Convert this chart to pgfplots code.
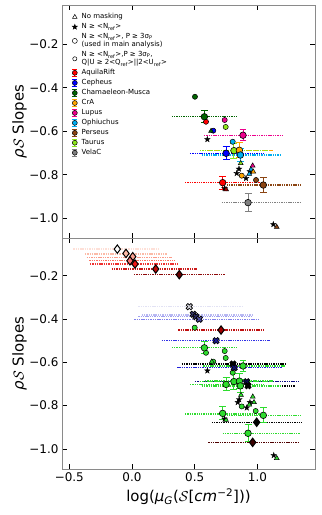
\documentclass[border=0pt]{standalone}
\usepackage{fontspec}
\setmainfont{DejaVu Sans}
\usepackage{pgfplots}
\pgfplotsset{compat=1.18}

\definecolor{cgreen}{HTML}{006400}
\definecolor{corange}{HTML}{FFA500}
\definecolor{cbrown}{HTML}{8B4513}
\definecolor{ctaurus}{HTML}{8CE61A}
\definecolor{cgray}{HTML}{808080}
\definecolor{lg}{HTML}{2EDC2E}
\definecolor{frame}{HTML}{8A8A8A}
% red series
\definecolor{rl1}{HTML}{FEE0D8}
\definecolor{rl2}{HTML}{FCBBA8}
\definecolor{rl3}{HTML}{FC9A88}
\definecolor{rl4}{HTML}{FB7060}
\definecolor{rl5}{HTML}{F03030}
\definecolor{rl6}{HTML}{CC1A1A}
\definecolor{rl7}{HTML}{8E0A0A}
\definecolor{rl8}{HTML}{C01010}
\definecolor{rd2}{HTML}{FCBBA8}
\definecolor{rd3}{HTML}{F9A090}
\definecolor{rd4}{HTML}{F87070}
\definecolor{rd5}{HTML}{F01818}
\definecolor{rd6}{HTML}{C00808}
\definecolor{rd7}{HTML}{6A0000}
\definecolor{rd8}{HTML}{A00000}
\definecolor{rd10}{HTML}{3A0000}
\definecolor{rl10}{HTML}{500000}
% blue series
\definecolor{bl1}{HTML}{E2E2F4}
\definecolor{bl2}{HTML}{B8B8F2}
\definecolor{bl3}{HTML}{A0A0F0}
\definecolor{bl4}{HTML}{8080EC}
\definecolor{bl5}{HTML}{3030E6}
\definecolor{bl6}{HTML}{2020D8}
\definecolor{bl7}{HTML}{0A0A80}
\definecolor{bx1}{HTML}{D4D4DC}
\definecolor{bx2}{HTML}{3A3A78}
\definecolor{bx3}{HTML}{2A2A66}
\definecolor{bx4}{HTML}{5050A8}
\definecolor{bx5}{HTML}{1A1A90}
\definecolor{bx6}{HTML}{101070}
\definecolor{bx7}{HTML}{0A0A50}

\pgfdeclareplotmark{fstar}{%
  \pgfpathmoveto{\pgfpointpolar{90}{\pgfplotmarksize}}%
  \pgfpathlineto{\pgfpointpolar{126}{0.4\pgfplotmarksize}}%
  \pgfpathlineto{\pgfpointpolar{162}{\pgfplotmarksize}}%
  \pgfpathlineto{\pgfpointpolar{198}{0.4\pgfplotmarksize}}%
  \pgfpathlineto{\pgfpointpolar{234}{\pgfplotmarksize}}%
  \pgfpathlineto{\pgfpointpolar{270}{0.4\pgfplotmarksize}}%
  \pgfpathlineto{\pgfpointpolar{306}{\pgfplotmarksize}}%
  \pgfpathlineto{\pgfpointpolar{342}{0.4\pgfplotmarksize}}%
  \pgfpathlineto{\pgfpointpolar{18}{\pgfplotmarksize}}%
  \pgfpathlineto{\pgfpointpolar{54}{0.4\pgfplotmarksize}}%
  \pgfpathclose
  \pgfusepathqfillstroke
}
\pgfdeclareplotmark{Xf}{%
  \pgftransformrotate{45}%
  \pgfpathmoveto{\pgfpoint{0.35\pgfplotmarksize}{\pgfplotmarksize}}%
  \pgfpathlineto{\pgfpoint{0.35\pgfplotmarksize}{0.35\pgfplotmarksize}}%
  \pgfpathlineto{\pgfpoint{\pgfplotmarksize}{0.35\pgfplotmarksize}}%
  \pgfpathlineto{\pgfpoint{\pgfplotmarksize}{-0.35\pgfplotmarksize}}%
  \pgfpathlineto{\pgfpoint{0.35\pgfplotmarksize}{-0.35\pgfplotmarksize}}%
  \pgfpathlineto{\pgfpoint{0.35\pgfplotmarksize}{-\pgfplotmarksize}}%
  \pgfpathlineto{\pgfpoint{-0.35\pgfplotmarksize}{-\pgfplotmarksize}}%
  \pgfpathlineto{\pgfpoint{-0.35\pgfplotmarksize}{-0.35\pgfplotmarksize}}%
  \pgfpathlineto{\pgfpoint{-\pgfplotmarksize}{-0.35\pgfplotmarksize}}%
  \pgfpathlineto{\pgfpoint{-\pgfplotmarksize}{0.35\pgfplotmarksize}}%
  \pgfpathlineto{\pgfpoint{-0.35\pgfplotmarksize}{0.35\pgfplotmarksize}}%
  \pgfpathlineto{\pgfpoint{-0.35\pgfplotmarksize}{\pgfplotmarksize}}%
  \pgfpathclose
  \pgfusepathqfillstroke
}

\pgfplotsset{
  base/.style={
    scale only axis, width=253bp,
    xmin=-0.558, xmax=1.459,
    xtick={-0.5,0,0.5,1},
    ytick={-1,-0.8,-0.6,-0.4,-0.2},
    yticklabels={−1.0,−0.8,−0.6,−0.4,−0.2},
    tick align=inside, tick pos=both,
    major tick length=5bp,
    tick style={black, line width=0.7pt},
    axis line style={frame, line width=0.9pt},
    ticklabel style={font=\fontsize{12}{14}\selectfont},
    label style={font=\fontsize{15}{17}\selectfont},
    ylabel={\textit{ρ}$\mathcal{S}$ Slopes},
    ylabel style={at={(axis description cs:-0.168,0.5)}, anchor=center},
    clip=false,
  },
  hl/.style={dash pattern=on 1.4pt off 0.9pt, line width=1.3pt, forget plot, color=#1},
  mainpt/.style={only marks, forget plot, mark=*, mark size=3.3pt, color=#1,
    mark options={fill=#1, draw=black, line width=0.6pt},
    error bars/y dir=both, error bars/y explicit,
    error bars/error bar style={color=#1, line width=1pt},
    error bars/error mark options={rotate=90, mark size=3.5pt, line width=1pt, color=#1}},
  smallpt/.style={only marks, forget plot, mark=*, mark size=2.6pt,
    mark options={fill=#1, draw=black, line width=0.5pt}},
  tri/.style={only marks, forget plot, mark=triangle*, mark size=2.8pt,
    mark options={fill=#1, draw=black, line width=0.5pt}},
  st/.style={only marks, forget plot, mark=fstar, mark size=3pt,
    mark options={fill=black, draw=black, line width=0.3pt}},
  dia/.style={only marks, forget plot, mark=diamond*, mark size=4.2pt,
    mark options={fill=#1, draw=black, line width=1pt}},
  xm/.style={only marks, forget plot, mark=Xf, mark size=3.3pt,
    mark options={fill=#1, draw=black, line width=0.7pt}},
  legm/.style n args={3}{legend image code/.code={
    \draw[black, line width=0.5pt, mark=#1, mark size=#3, mark options={fill=#2}] plot coordinates {(0pt,0pt)};}},
  legerr/.style={legend image code/.code={
    \draw[#1, line width=0.8pt] (0pt,-3.4pt)--(0pt,3.4pt) (-2.4pt,-3.4pt)--(2.4pt,-3.4pt) (-2.4pt,3.4pt)--(2.4pt,3.4pt);
    \draw[black, fill=#1, line width=0.5pt] (0pt,0pt) circle (2.5pt);}},
}

\begin{document}
\begin{tikzpicture}
% ---------------- top panel ----------------
\begin{axis}[base,
  at={(62bp,276.7bp)}, anchor=south west, height=233.3bp,
  ymin=-1.092, ymax=-0.019,
  xticklabels={},
  legend style={at={(axis description cs:0.027,0.975)}, anchor=north west,
    draw=none, fill=none, font=\fontsize{7}{8}\selectfont,
    cells={anchor=west, align=left}, row sep=2.1pt, column sep=3.5pt,
    nodes={inner sep=0.6pt}},
]
\addlegendimage{legm={triangle*}{white}{2.6pt}}
\addlegendentry{No masking}
\addlegendimage{legm={fstar}{black}{2.6pt}}
\addlegendentry{N ≥ <N\textsubscript{ref}>}
\addlegendimage{legm={*}{white}{2.5pt}}
\addlegendentry{N ≥ <N\textsubscript{ref}>, P ≥ 3σ\textsubscript{P}\\ (used in main analysis)}
\addlegendimage{legm={*}{white}{2.1pt}}
\addlegendentry{N ≥ <N\textsubscript{ref}>,P ≥ 3σ\textsubscript{P},\\ Q|U ≥ 2<Q\textsubscript{ref}>||2<U\textsubscript{ref}>}
\addlegendimage{legerr=red}\addlegendentry{AquilaRift}
\addlegendimage{legerr=blue}\addlegendentry{Cepheus}
\addlegendimage{legerr=cgreen}\addlegendentry{Chamaeleon-Musca}
\addlegendimage{legerr=corange}\addlegendentry{CrA}
\addlegendimage{legerr=magenta}\addlegendentry{Lupus}
\addlegendimage{legerr=cyan}\addlegendentry{Ophiuchus}
\addlegendimage{legerr=cbrown}\addlegendentry{Perseus}
\addlegendimage{legerr=ctaurus}\addlegendentry{Taurus}
\addlegendimage{legerr=cgray}\addlegendentry{VelaC}

% dotted ranges
\addplot[hl=red] coordinates {(0.423,-0.836) (1.034,-0.836)};
\addplot[hl=blue] coordinates {(0.462,-0.701) (1.047,-0.701)};
\addplot[hl=cgreen] coordinates {(0.317,-0.533) (0.840,-0.533)};
\addplot[hl=corange] coordinates {(0.582,-0.687) (1.127,-0.687)};
\addplot[hl=magenta] coordinates {(0.574,-0.618) (1.202,-0.618)};
\addplot[hl=cyan] coordinates {(0.556,-0.709) (1.180,-0.709)};
\addplot[hl=cbrown] coordinates {(0.755,-0.847) (1.340,-0.847)};
\addplot[hl=ctaurus] coordinates {(0.542,-0.689) (1.085,-0.689)};
\addplot[hl=cgray] coordinates {(0.715,-0.928) (1.340,-0.928)};
% small circles
\addplot[smallpt=cgreen] coordinates {(0.502,-0.441)};
\addplot[smallpt=red] coordinates {(0.590,-0.556)};
\addplot[smallpt=magenta] coordinates {(0.739,-0.548)};
\addplot[smallpt=ctaurus] coordinates {(0.747,-0.580)};
\addplot[smallpt=blue] coordinates {(0.648,-0.597)};
\addplot[smallpt=cyan] coordinates {(0.803,-0.648)};
\addplot[smallpt=corange] coordinates {(0.875,-0.804)};
\addplot[smallpt=cbrown] coordinates {(0.989,-0.824)};
% stars
\addplot[st] coordinates {(0.601,-0.637) (0.835,-0.793) (0.853,-0.773) (0.909,-0.816) (0.940,-0.785) (0.738,-0.862) (1.127,-1.028)};
% triangles
\addplot[tri=cgreen] coordinates {(0.630,-0.599)};
\addplot[tri=ctaurus] coordinates {(0.867,-0.747)};
\addplot[tri=cyan] coordinates {(0.935,-0.796) (0.949,-0.775)};
\addplot[tri=magenta] coordinates {(0.962,-0.758)};
\addplot[tri=corange] coordinates {(0.967,-0.786)};
\addplot[tri=rd8] coordinates {(0.750,-0.867)};
\addplot[tri=cbrown] coordinates {(1.154,-1.040)};
% main points
\addplot[mainpt=cgreen] coordinates {(0.577,-0.533) +- (0,0.027)};
\addplot[mainpt=magenta] coordinates {(0.885,-0.618) +- (0,0.025)};
\addplot[mainpt=ctaurus] coordinates {(0.813,-0.689) +- (0,0.035)};
\addplot[mainpt=corange] coordinates {(0.856,-0.687) +- (0,0.035)};
\addplot[mainpt=blue] coordinates {(0.750,-0.701) +- (0,0.030)};
\addplot[mainpt=cyan] coordinates {(0.864,-0.709) +- (0,0.030)};
\addplot[mainpt=red] coordinates {(0.723,-0.836) +- (0,0.030)};
\addplot[mainpt=cbrown] coordinates {(1.047,-0.847) +- (0,0.034)};
\addplot[mainpt=cgray] coordinates {(0.925,-0.928) +- (0,0.040)};
\end{axis}

% ---------------- bottom panel ----------------
\begin{axis}[base,
  at={(62bp,46bp)}, anchor=south west, height=230.7bp,
  ymin=-1.093, ymax=-0.027,
  xticklabels={−0.5,0.0,0.5,1.0},
  xlabel={log(\textit{μ}\textsubscript{\textit{G}}($\mathcal{S}$[\textit{cm}\textsuperscript{−2}]))},
  xlabel style={at={(axis description cs:0.5,-0.12)}, anchor=center},
]
% red diamond series ranges
\addplot[hl=rl1] coordinates {(-0.468,-0.077) (0.223,-0.077)};
\addplot[hl=rl2] coordinates {(-0.375,-0.100) (0.277,-0.100)};
\addplot[hl=rl3] coordinates {(-0.361,-0.115) (0.317,-0.115)};
\addplot[hl=rl4] coordinates {(-0.340,-0.131) (0.343,-0.131)};
\addplot[hl=rl5] coordinates {(-0.335,-0.146) (0.369,-0.146)};
\addplot[hl=rl6] coordinates {(-0.162,-0.169) (0.516,-0.169)};
\addplot[hl=rl7] coordinates {(0.016,-0.195) (0.742,-0.195)};
\addplot[hl=rl8] coordinates {(0.369,-0.451) (1.053,-0.451)};
% blue cross series ranges
\addplot[hl=bl1] coordinates {(0.051,-0.343) (0.875,-0.343)};
\addplot[hl=bl2] coordinates {(0.077,-0.382) (0.967,-0.382)};
\addplot[hl=bl3] coordinates {(0.050,-0.389) (0.950,-0.389)};
\addplot[hl=bl4] coordinates {(0.018,-0.401) (1.007,-0.401)};
\addplot[hl=bl5] coordinates {(0.237,-0.500) (1.100,-0.500)};
\addplot[hl=bl6] coordinates {(0.360,-0.625) (1.200,-0.625)};
\addplot[hl=bl7] coordinates {(0.502,-0.690) (1.326,-0.690)};
% black ranges
\addplot[hl=black] coordinates {(0.396,-0.608) (1.234,-0.608)};
\addplot[hl=black] coordinates {(0.556,-0.710) (1.300,-0.710)};
\addplot[hl=black] coordinates {(0.636,-0.879) (1.353,-0.879)};
\addplot[hl=rl10] coordinates {(0.608,-0.971) (1.326,-0.971)};
% green ranges
\addplot[hl=lg] coordinates {(0.423,-0.839) (1.034,-0.839)};
\addplot[hl=lg] coordinates {(0.462,-0.702) (1.047,-0.702)};
\addplot[hl=lg] coordinates {(0.317,-0.533) (0.840,-0.533)};
\addplot[hl=lg] coordinates {(0.582,-0.687) (1.127,-0.687)};
\addplot[hl=lg] coordinates {(0.568,-0.617) (1.220,-0.617)};
\addplot[hl=lg] coordinates {(0.556,-0.709) (1.180,-0.709)};
\addplot[hl=lg] coordinates {(0.755,-0.847) (1.340,-0.847)};
\addplot[hl=lg] coordinates {(0.542,-0.689) (1.085,-0.689)};
\addplot[hl=lg] coordinates {(0.723,-0.930) (1.340,-0.930)};
% green small circles
\addplot[smallpt=lg] coordinates {(0.500,-0.440) (0.590,-0.556) (0.739,-0.548) (0.747,-0.580) (0.648,-0.597) (0.803,-0.648) (0.875,-0.804) (0.986,-0.825)};
% stars
\addplot[st] coordinates {(0.601,-0.639) (0.843,-0.785) (0.855,-0.772) (0.915,-0.810) (0.940,-0.785) (0.738,-0.862) (1.130,-1.030)};
% green triangles
\addplot[tri=lg] coordinates {(0.636,-0.597) (0.869,-0.751) (0.935,-0.796) (0.963,-0.759) (0.973,-0.785) (0.750,-0.867) (1.154,-1.043)};
% green main points
\addplot[mainpt=lg] coordinates {(0.577,-0.533) +- (0,0.027)};
\addplot[mainpt=lg] coordinates {(0.885,-0.617) +- (0,0.025)};
\addplot[mainpt=lg] coordinates {(0.813,-0.689) +- (0,0.035)};
\addplot[mainpt=lg] coordinates {(0.856,-0.687) +- (0,0.035)};
\addplot[mainpt=lg] coordinates {(0.750,-0.702) +- (0,0.030)};
\addplot[mainpt=lg] coordinates {(0.864,-0.709) +- (0,0.030)};
\addplot[mainpt=lg] coordinates {(0.723,-0.836) +- (0,0.030)};
\addplot[mainpt=lg] coordinates {(1.047,-0.845) +- (0,0.034)};
\addplot[mainpt=lg] coordinates {(0.925,-0.928) +- (0,0.040)};
% crosses
\addplot[xm=bx1] coordinates {(0.457,-0.343)};
\addplot[xm=bx2] coordinates {(0.489,-0.378)};
\addplot[xm=bx3] coordinates {(0.510,-0.389)};
\addplot[xm=bx4] coordinates {(0.537,-0.401)};
\addplot[xm=bx5] coordinates {(0.670,-0.500)};
\addplot[xm=black] coordinates {(0.805,-0.608)};
\addplot[xm=bx6] coordinates {(0.815,-0.625)};
\addplot[xm=bx7] coordinates {(0.915,-0.690)};
\addplot[xm=black] coordinates {(0.925,-0.708)};
% diamonds
\addplot[dia=white] coordinates {(-0.117,-0.077)};
\addplot[dia=rd2] coordinates {(-0.048,-0.097)};
\addplot[dia=rd3] coordinates {(0.006,-0.112)};
\addplot[dia=rd4] coordinates {(-0.016,-0.131)};
\addplot[dia=rd5] coordinates {(0.024,-0.146)};
\addplot[dia=rd6] coordinates {(0.189,-0.169)};
\addplot[dia=rd7] coordinates {(0.377,-0.195)};
\addplot[dia=rd8] coordinates {(0.710,-0.451)};
\addplot[dia=black] coordinates {(0.994,-0.877)};
\addplot[dia=rd10] coordinates {(0.962,-0.970)};
\end{axis}
\pgfresetboundingbox
\path (0,0) rectangle (322bp,515bp);
\end{tikzpicture}
\end{document}
